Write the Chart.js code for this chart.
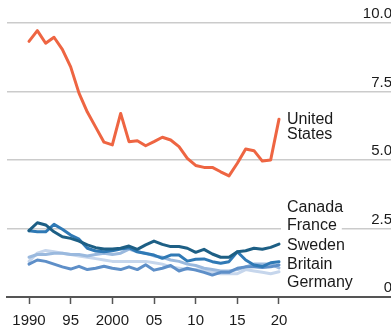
<!DOCTYPE html>
<html>
<head>
<meta charset="utf-8">
<script src="https://cdn.jsdelivr.net/npm/chart.js@4.4.0/dist/chart.umd.min.js"></script>
<style>
html,body{margin:0;padding:0;background:#fff;}
#wrap{width:391px;height:331px;position:relative;}
</style>
</head>
<body>
<div id="wrap"><canvas id="c" width="391" height="331"></canvas></div>
<script>
const years = [1990,1991,1992,1993,1994,1995,1996,1997,1998,1999,2000,2001,2002,2003,2004,2005,2006,2007,2008,2009,2010,2011,2012,2013,2014,2015,2016,2017,2018,2019,2020];
const unitedStates = [9.33,9.72,9.26,9.48,9.04,8.40,7.44,6.75,6.20,5.65,5.55,6.70,5.67,5.70,5.52,5.67,5.83,5.73,5.49,5.06,4.80,4.73,4.73,4.57,4.42,4.88,5.40,5.34,4.96,5.00,6.49];
const canada = [2.42,2.71,2.63,2.38,2.20,2.14,2.04,1.90,1.80,1.75,1.75,1.78,1.86,1.74,1.90,2.04,1.92,1.84,1.84,1.78,1.63,1.74,1.57,1.45,1.45,1.65,1.69,1.78,1.74,1.81,1.93];
const france = [2.42,2.38,2.38,2.65,2.47,2.26,2.11,1.78,1.68,1.65,1.69,1.75,1.80,1.65,1.59,1.53,1.41,1.53,1.53,1.31,1.38,1.39,1.29,1.23,1.29,1.65,1.35,1.17,1.11,1.25,1.29];
const sweden = [1.20,1.35,1.30,1.20,1.10,1.02,1.12,1.00,1.05,1.12,1.05,1.00,1.10,1.00,1.18,0.98,1.05,1.15,0.95,1.05,0.98,0.90,0.80,0.90,0.90,1.05,1.10,1.10,1.08,1.10,1.17];
const britain = [1.45,1.55,1.55,1.60,1.60,1.55,1.55,1.50,1.55,1.60,1.55,1.60,1.75,1.65,1.60,1.50,1.45,1.35,1.30,1.20,1.15,1.05,1.00,0.95,0.95,1.00,1.10,1.20,1.20,1.20,1.06];
const germany = [1.30,1.60,1.70,1.65,1.60,1.55,1.50,1.45,1.40,1.35,1.30,1.30,1.30,1.30,1.30,1.25,1.20,1.10,1.05,1.00,1.00,0.95,0.90,0.85,0.85,0.85,1.00,0.95,0.90,0.85,0.92];
const xTicks = [1990,1995,2000,2005,2010,2015,2020];
const yTicks = [0,2.5,5,7.5,10];
const seriesNames = ['United States','Canada','France','Sweden','Britain','Germany'];
const seriesColors = ['#ee6542','#1d5f85','#2f79b5','#5e8fc8','#9ab9de','#c6d6ec'];
const seriesValues = [unitedStates,canada,france,sweden,britain,germany];
const endLabels = [
  {text:'United', y:6.48, box:false},
  {text:'States', y:5.91, box:false},
  {text:'Canada', y:3.28, box:true},
  {text:'France', y:2.59, box:true},
  {text:'Sweden', y:1.86, box:true},
  {text:'Britain', y:1.17, box:true},
  {text:'Germany', y:0.51, box:true}
];

const FONT = '"Liberation Sans", Arial, sans-serif';

const labelPlugin = {
  id:'endLabels',
  afterDatasetsDraw(chart){
    const ctx = chart.ctx;
    const xs = chart.scales.x, ys = chart.scales.y;
    const x0 = xs.getPixelForValue(2020) + 8;
    ctx.save();
    ctx.font = '16px ' + FONT;
    ctx.textBaseline = 'middle';
    ctx.textAlign = 'left';
    endLabels.forEach(l=>{
      const y = ys.getPixelForValue(l.y);
      const w = ctx.measureText(l.text).width;
      if(l.box){
        ctx.fillStyle = '#ffffff';
        ctx.fillRect(x0-6, y-9, w+11, 18);
      }
    });
    endLabels.forEach(l=>{
      const y = ys.getPixelForValue(l.y);
      ctx.fillStyle = '#1a1a1a';
      ctx.fillText(l.text, x0, y);
    });
    ctx.restore();
  }
};

new Chart(document.getElementById('c'), {
  type:'line',
  data:{
    datasets: seriesNames.map((n,i)=>({
      label:n,
      data: years.map((y,j)=>({x:y, y:seriesValues[i][j]})),
      borderColor: seriesColors[i],
      backgroundColor: seriesColors[i],
      borderWidth: 3,
      pointRadius: 0,
      tension: 0,
      borderJoinStyle:'round',
      borderCapStyle:'round',
      fill:false
    }))
  },
  options:{
    responsive:false,
    animation:false,
    events:[],
    layout:{padding:{left:7,top:23,right:0,bottom:0}},
    plugins:{legend:{display:false},tooltip:{enabled:false},title:{display:false}},
    scales:{
      x:{
        type:'linear',
        min:1987.36,
        max:2033.44,
        afterBuildTicks(s){ s.ticks = xTicks.map(v=>({value:v})); },
        afterFit(s){ s.height = 34; },
        grid:{drawOnChartArea:false, drawTicks:true, tickLength:7, tickColor:'#555555', tickWidth:1.5},
        border:{display:true, color:'#555555', width:2},
        ticks:{
          autoSkip:false, maxRotation:0, padding:8,
          color:'#1a1a1a',
          font:{family:FONT, size:15},
          callback(v){ return (v===1990||v===2000) ? String(v) : String(v).slice(2); }
        }
      },
      y:{
        position:'right',
        min:0,
        max:10,
        afterBuildTicks(s){ s.ticks = yTicks.map(v=>({value:v})); },
        afterFit(s){ s.width = 0; },
        grid:{
          drawTicks:false,
          lineWidth:1.5,
          color(c){ return c.tick && c.tick.value===0 ? 'rgba(0,0,0,0)' : '#cbcbcb'; }
        },
        border:{display:false},
        ticks:{
          mirror:true, padding:1, labelOffset:-9,
          color:'#1a1a1a',
          font:{family:FONT, size:15},
          callback(v){ return v===0 ? '0' : v.toFixed(1); }
        }
      }
    }
  },
  plugins:[labelPlugin]
});
</script>
</body>
</html>
